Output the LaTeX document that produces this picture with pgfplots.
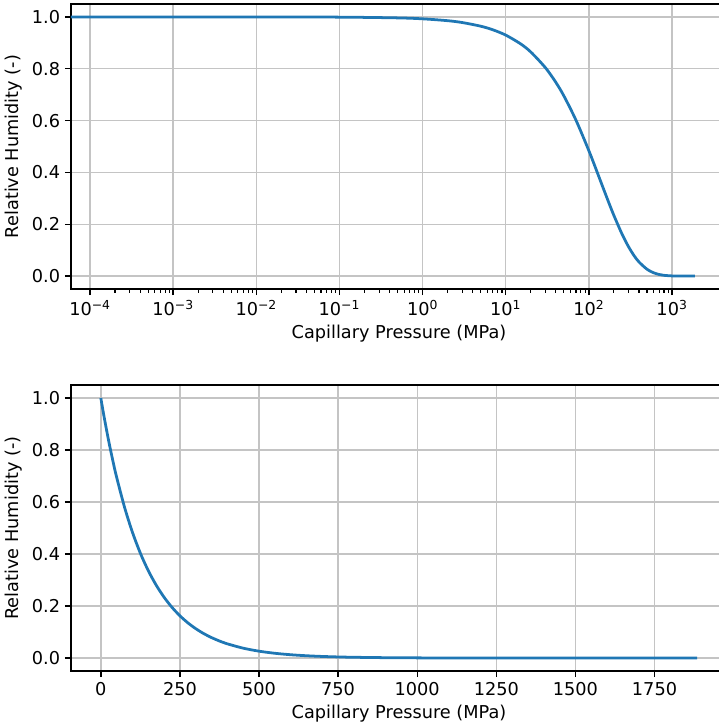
\documentclass[border=0pt]{standalone}
\usepackage{pgfplots}
\pgfplotsset{compat=1.18}
\usepackage{fontspec}
\setmainfont{DejaVu Sans}
\definecolor{mplblue}{HTML}{1F77B4}
\definecolor{mplgrid}{HTML}{C4C4C4}
\newcommand{\pw}[1]{10\textsuperscript{#1}}
\pgfplotsset{
  common/.style={
    scale only axis,
    anchor=north west,
    axis line style={black, line width=1.0pt},
    tick align=outside,
    tick pos=left,
    major tick length=4.4pt,
    minor tick length=2.6pt,
    every tick/.style={black, line width=1.0pt},
    every minor tick/.style={black, line width=0.8pt},
    grid=major,
    major grid style={mplgrid, line width=1.0pt},
    ymin=-0.05, ymax=1.05,
    ytick={0,0.2,0.4,0.6,0.8,1.0},
    yticklabel style={/pgf/number format/.cd, fixed, fixed zerofill, precision=1, assume math mode=true},
    xticklabel style={/pgf/number format/assume math mode=true},
    tick label style={font=\fontsize{12.8}{15}\selectfont},
    label style={font=\fontsize{12.8}{15}\selectfont},
    ylabel={Relative Humidity (-)},
    xlabel={Capillary Pressure (MPa)},
    width=474.1pt,
  },
}
\begin{document}
\begin{tikzpicture}
\begin{semilogxaxis}[common,
  at={(51.31pt,-2.89pt)},
  height=206.0pt,
  xmin=5.907e-5, xmax=4586,
  xtick={1e-4,1e-3,1e-2,1e-1,1,10,100,1000},
  xticklabels={\pw{−4},\pw{−3},\pw{−2},\pw{−1},\pw{0},\pw{1},\pw{2},\pw{3}},
]
\addplot[mplblue, line width=2.0pt, smooth] coordinates {
(5.907e-5,1.0)
(1e-3,1.0)
(1e-2,0.99993)
(0.1,0.99927)
(0.5,0.99637)
(1,0.99276)
(2,0.98557)
(3,0.97844)
(5,0.96431)
(7,0.95040)
(10,0.92991)
(15,0.89672)
(20,0.86472)
(30,0.80412)
(40,0.74771)
(50,0.69535)
(70,0.60127)
(100,0.48349)
(125,0.40314)
(150,0.33620)
(175,0.28034)
(200,0.23375)
(250,0.16253)
(300,0.11303)
(350,0.07858)
(400,0.05464)
(500,0.02642)
(600,0.01277)
(700,0.00617)
(800,0.00298)
(1000,0.00070)
(1200,0.00017)
(1500,0.00002)
(1885,0.0)
};
\end{semilogxaxis}
\begin{axis}[common,
  at={(51.31pt,-278.24pt)},
  height=206.7pt,
  xmin=-94.25, xmax=1979.25,
  xtick={0,250,500,750,1000,1250,1500,1750},
  scaled x ticks=false,
  xticklabel style={/pgf/number format/.cd, fixed, set thousands separator={}},
]
\addplot[mplblue, line width=2.0pt, smooth] coordinates {
(0,1.0)
(10,0.92991)
(25,0.83386)
(40,0.74771)
(50,0.69535)
(75,0.57983)
(100,0.48349)
(125,0.40314)
(150,0.33620)
(175,0.28034)
(200,0.23375)
(225,0.19494)
(250,0.16253)
(275,0.13553)
(300,0.11303)
(325,0.09424)
(350,0.07858)
(375,0.06555)
(400,0.05464)
(450,0.03800)
(500,0.02642)
(550,0.01837)
(600,0.01277)
(650,0.00888)
(700,0.00617)
(750,0.00429)
(800,0.00298)
(900,0.00144)
(1000,0.00070)
(1200,0.00017)
(1500,0.00002)
(1885,0.0)
};
\end{axis}
\pgfresetboundingbox
\useasboundingbox (0,0) rectangle (518.9pt,-526.1pt);
\end{tikzpicture}
\end{document}
